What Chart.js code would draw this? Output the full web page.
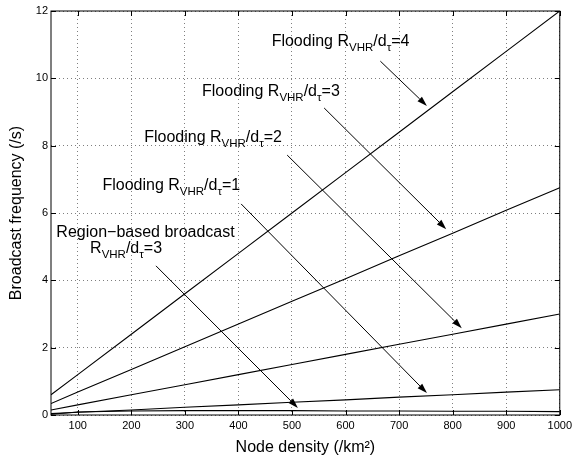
<!DOCTYPE html>
<html>
<head>
<meta charset="utf-8">
<script src="https://cdn.jsdelivr.net/npm/chart.js@4"></script>
<style>
  html, body { margin: 0; padding: 0; background: #fff; }
  #wrap { width: 576px; height: 464px; }
</style>
</head>
<body>
<div id="wrap"><canvas id="freqChart"></canvas></div>
<script>
// ================= DATA =================
const density = [50, 100, 200, 300, 400, 500, 600, 700, 800, 900, 1000];

const flood4 = [0.6, 1.2, 2.4, 3.6, 4.8, 6.0, 7.2, 8.4, 9.6, 10.8, 12.0];
const flood3 = [0.34, 0.68, 1.35, 2.03, 2.7, 3.38, 4.05, 4.73, 5.4, 6.08, 6.75];
const flood2 = [0.15, 0.3, 0.6, 0.9, 1.2, 1.5, 1.8, 2.1, 2.4, 2.7, 3.0];
const flood1 = [0.04, 0.08, 0.15, 0.23, 0.3, 0.38, 0.45, 0.53, 0.6, 0.68, 0.75];
const region3 = [0.02, 0.09, 0.12, 0.13, 0.13, 0.13, 0.12, 0.12, 0.11, 0.11, 0.1];

const xTicks = [100, 200, 300, 400, 500, 600, 700, 800, 900, 1000];
const yTicks = [0, 2, 4, 6, 8, 10, 12];

// labels: text start (data x, baseline y) + arrow (from -> to), data units
const notes = [
  { lines: [[["Flooding R", "n"], ["VHR", "sub"], ["/d", "n"], ["\u03c4", "sub"], ["=4", "n"]]],
    at: [462, 10.95], from: [665, 10.51], to: [752, 9.18] },
  { lines: [[["Flooding R", "n"], ["VHR", "sub"], ["/d", "n"], ["\u03c4", "sub"], ["=3", "n"]]],
    at: [332, 9.47], from: [560, 9.12], to: [788, 5.52] },
  { lines: [[["Flooding R", "n"], ["VHR", "sub"], ["/d", "n"], ["\u03c4", "sub"], ["=2", "n"]]],
    at: [224, 8.11], from: [491, 7.72], to: [817, 2.58] },
  { lines: [[["Flooding R", "n"], ["VHR", "sub"], ["/d", "n"], ["\u03c4", "sub"], ["=1", "n"]]],
    at: [146, 6.68], from: [405, 6.27], to: [752, 0.65] },
  { lines: [[["Region\u2212based broadcast", "n"]],
            [["R", "n"], ["VHR", "sub"], ["/d", "n"], ["\u03c4", "sub"], ["=3", "n"]]],
    at: [60, 5.29], at2: [123, 4.81], from: [246, 4.43], to: [511, 0.21] },
];

const FONT = "'Liberation Sans', Arial, Helvetica, sans-serif";

// ================= HELPERS =================
function drawRich(ctx, parts, x, y) {
  let cx = x;
  parts.forEach(([txt, kind]) => {
    const small = kind !== "n";
    ctx.font = (small ? 11.5 : 16) + "px " + FONT;
    const dy = kind === "sub" ? 5 : kind === "sup" ? -7 : 0;
    ctx.fillText(txt, cx, y + dy);
    cx += ctx.measureText(txt).width;
  });
}

function drawArrow(ctx, x1, y1, x2, y2) {
  const ang = Math.atan2(y2 - y1, x2 - x1);
  const len = 10, half = 3.2;
  const bx = x2 - len * Math.cos(ang), by = y2 - len * Math.sin(ang);
  ctx.beginPath();
  ctx.moveTo(x1, y1);
  ctx.lineTo(bx, by);
  ctx.stroke();
  ctx.beginPath();
  ctx.moveTo(x2, y2);
  ctx.lineTo(bx + half * Math.sin(ang), by - half * Math.cos(ang));
  ctx.lineTo(bx - half * Math.sin(ang), by + half * Math.cos(ang));
  ctx.closePath();
  ctx.fill();
}

// ================= FRAME + NOTES PLUGIN =================
const framePlugin = {
  id: "frame",
  afterDraw(chart) {
    const { ctx, chartArea: a, scales: { x, y } } = chart;
    ctx.save();
    ctx.strokeStyle = "#000";
    ctx.fillStyle = "#000";
    ctx.lineWidth = 1;
    ctx.strokeRect(a.left, a.top, a.right - a.left, a.bottom - a.top);

    // inward ticks
    ctx.beginPath();
    xTicks.forEach((v) => {
      const px = Math.round(x.getPixelForValue(v)) + 0.5;
      ctx.moveTo(px, a.bottom); ctx.lineTo(px, a.bottom - 5);
      ctx.moveTo(px, a.top); ctx.lineTo(px, a.top + 5);
    });
    yTicks.forEach((v) => {
      const py = Math.round(y.getPixelForValue(v)) + 0.5;
      ctx.moveTo(a.left, py); ctx.lineTo(a.left + 5, py);
      ctx.moveTo(a.right, py); ctx.lineTo(a.right - 5, py);
    });
    ctx.stroke();

    // labels and arrows
    ctx.textBaseline = "alphabetic";
    ctx.textAlign = "left";
    notes.forEach((n) => {
      drawRich(ctx, n.lines[0], x.getPixelForValue(n.at[0]), y.getPixelForValue(n.at[1]));
      if (n.lines[1]) {
        drawRich(ctx, n.lines[1], x.getPixelForValue(n.at2[0]), y.getPixelForValue(n.at2[1]));
      }
      drawArrow(ctx,
        x.getPixelForValue(n.from[0]), y.getPixelForValue(n.from[1]),
        x.getPixelForValue(n.to[0]), y.getPixelForValue(n.to[1]));
    });
    ctx.restore();
  },
};

// ================= CHART =================
function mkLine(label, data) {
  return {
    label: label,
    data: data,
    borderColor: "#000",
    borderWidth: 1.1,
    pointRadius: 0,
    tension: 0,
    fill: false,
  };
}

const gridOpts = {
  color: "rgba(0,0,0,0.5)",
  lineWidth: 1,
  drawTicks: false,
};

new Chart(document.getElementById("freqChart"), {
  type: "line",
  data: {
    labels: density,
    datasets: [
      mkLine("Flooding 4", flood4),
      mkLine("Flooding 3", flood3),
      mkLine("Flooding 2", flood2),
      mkLine("Flooding 1", flood1),
      mkLine("Region-based 3", region3),
    ],
  },
  options: {
    responsive: true,
    maintainAspectRatio: false,
    animation: false,
    layout: { padding: { top: 11, right: 13, left: 0, bottom: 0 } },
    plugins: { legend: { display: false }, tooltip: { enabled: false } },
    scales: {
      x: {
        type: "linear",
        min: 50,
        max: 1000,
        afterBuildTicks: (s) => { s.ticks = xTicks.map((v) => ({ value: v })); },
        afterFit: (s) => { s.height = 49; },
        grid: gridOpts,
        border: { display: false, dash: [1, 3] },
        ticks: {
          font: { family: FONT, size: 11 },
          color: "#000",
          padding: 4,
          maxRotation: 0,
          autoSkip: false,
          callback: (v) => String(v),
        },
        title: {
          display: true,
          text: "Node density (/km\u00b2)",
          font: { family: FONT, size: 16 },
          color: "#000",
          padding: { top: 0, bottom: 7 },
        },
      },
      y: {
        type: "linear",
        min: 0,
        max: 12,
        afterBuildTicks: (s) => { s.ticks = yTicks.map((v) => ({ value: v })); },
        afterFit: (s) => { s.width = 51; },
        grid: gridOpts,
        border: { display: false, dash: [1, 3] },
        ticks: {
          font: { family: FONT, size: 11 },
          color: "#000",
          padding: 3,
          autoSkip: false,
          callback: (v) => String(v),
        },
        title: {
          display: true,
          text: "Broadcast frequency (/s)",
          font: { family: FONT, size: 16 },
          color: "#000",
          padding: { top: 7, bottom: 0 },
        },
      },
    },
  },
  plugins: [framePlugin],
});
</script>
</body>
</html>
